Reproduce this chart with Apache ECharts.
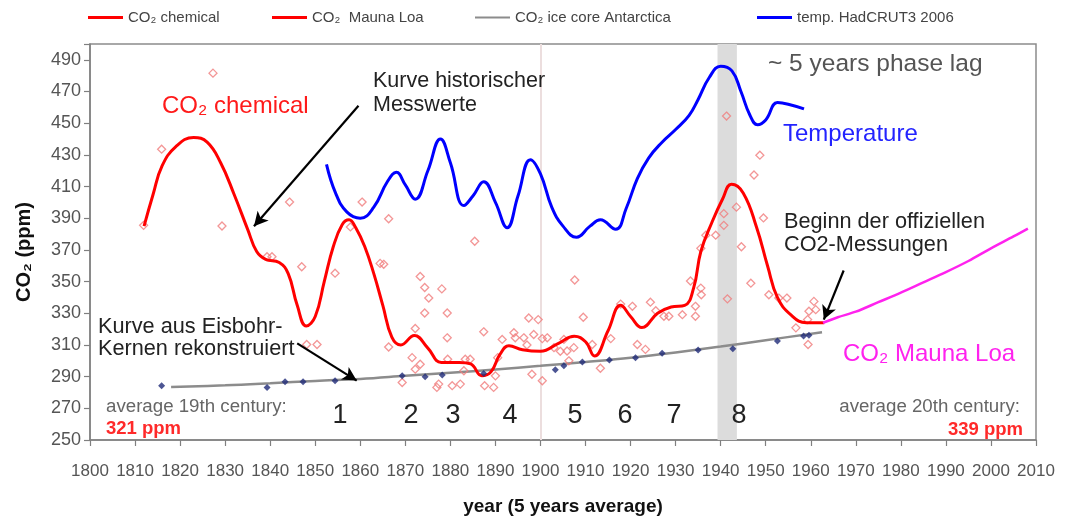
<!DOCTYPE html>
<html><head><meta charset="utf-8">
<script src="https://cdn.jsdelivr.net/npm/echarts@6/dist/echarts.min.js"></script>
<style>html,body{margin:0;padding:0;background:#fff}#c{width:1070px;height:521px}</style>
</head><body><div id="c"></div>
<script>
// ---------- DATA ----------
const chemYears  = [1812,1814,1816,1819,1823,1826,1829,1832,1835,1837,1839,1842,1844,1846,1848,1850,1852,1854,1856,1857.5,1859,1861,1863,1865,1867,1869,1872,1875,1878,1882,1884.5,1887,1889,1891,1893,1896,1900,1904,1907.5,1910,1912,1915,1917.8,1920,1922.5,1926,1929,1932,1934,1935.6,1938,1940.4,1942.4,1945,1948,1950.4,1952.6,1955.6,1959,1963];
const chemValues = [385,405,423,435,441,438,425,405,383,369,364,362,355,335,322,328,350,372,386,389,384,372,355,335,315,310,316,308,299,299,298,290.5,293,304,309.5,307,306,311,315.5,312,303,319,335,328,321,330,334,335,346,369,387,402,411.5,406,384,360,340,329,324,324];

const tempYears  = [1852.5,1854.5,1857,1860,1863,1866,1868,1870,1872.2,1875,1877.8,1880,1883,1885,1887.4,1890,1892.6,1895,1897.8,1900,1902.5,1905,1908,1911,1913.3,1916.7,1919,1921.5,1924,1927,1930,1933,1935,1937.5,1940,1942.5,1944.5,1946.5,1948.2,1950,1952.6,1955,1958.5];
const tempValues = [424,406,394,390,397,413,419,411,402,420,440,425,398,404,413,400,384,404,427,418,397,385,378,385,389,383,396,415,428,438,446,455,465,479,486,483,470,455,449,452,463,462,459];

const iceYears   = [1818,1830,1840,1850,1860,1870,1880,1890,1900,1910,1920,1930,1940,1950,1962.5];
const iceValues  = [283.5,284.5,285.8,287.3,288.5,290.5,292.5,294.5,296.8,299.3,302,305.3,309,313,318];

const iceSampleYears  = [1815.9,1839.3,1843.3,1847.3,1854.4,1869.3,1874.4,1878.2,1887.4,1903.3,1905.2,1909.3,1915.3,1921.1,1927,1935,1942.7,1952.6,1958.4,1959.6];
const iceSampleValues = [284.3,283.2,286.8,286.8,287.4,290.5,290,291,292,294.3,296.8,299.3,300.5,302,304.7,306.8,307.6,312.5,315.6,316.2];

const maunaYears  = [1962.7,1966,1970,1975,1980,1985,1990,1995,2000,2005,2008.2];
const maunaValues = [324,327.5,331,337,343,349.5,356,363,371,378.5,383.5];

const chemSampleYears  = [1811.9,1815.9,1827.3,1829.3,1839.3,1840.4,1844.3,1847,1848.1,1850.4,1854.4,1857.8,1860.4,1864.4,1865.2,1866.3,1866.3,1869.3,1871.5,1872.2,1872.2,1873.3,1873.3,1874.3,1875.2,1874.3,1877,1877.4,1878.1,1879.3,1879.3,1879.4,1880.4,1882.2,1883,1883.3,1884.4,1885.4,1887.4,1887.6,1889.6,1890,1890.5,1891.5,1894.1,1894.4,1896.3,1897,1897.4,1898.1,1898.5,1899.5,1900.4,1900.4,1901.5,1903,1904.4,1905.2,1905.9,1906.3,1907.4,1907.6,1909.5,1911.5,1913.3,1915.6,1917.8,1920.4,1921.5,1923.3,1924.4,1925.6,1927.4,1928.5,1931.5,1933.3,1934.4,1934.4,1935.6,1935.7,1935.6,1936.7,1938.9,1940.7,1940.7,1941.3,1941.5,1943.5,1944.6,1946.7,1947.4,1948.7,1949.5,1950.7,1952.9,1954.7,1956.7,1959.3,1959.6,1960.7,1961.1,1959.4];
const chemSampleValues = [385.5,433.6,481.6,385.1,365.7,365.7,400.2,359.4,310.3,310.3,355.3,384.5,400.2,361.5,360.9,389.7,308.7,286.3,302,294.7,320.4,297.8,353.2,346.3,339.6,330.2,283.2,285.3,345.4,330.2,314.5,301,284.3,285.3,293.7,301,301,375.5,318.3,284.3,283.2,290.5,302,313.5,317.7,314.5,314.5,310,327,291.5,316.6,326,314,287.4,314.5,308.3,306,313.5,306.2,300,308.3,351,327.5,310.3,295.3,314,335.8,334.4,310.3,307.2,337,331.6,328.1,328.1,329.1,350.4,334.4,328.1,345.9,341.7,371,379.3,379.3,385.5,392.9,454.5,339.1,397,372,349,417.3,429.8,390.2,341.7,339.6,339.6,320.8,326,331.3,337.5,332.3,310.3];

const xMin = 1800, xMax = 2010, xStep = 10;
const yMin = 250, yMax = 500, yStep = 20;
const lagBand = [1939.3, 1943.6];
const centuryLine = 1900;

const zip = (a, b) => a.map((v, i) => [v, b[i]]);

// ---------- STYLE ----------
const SANS = "'Liberation Sans',Arial,sans-serif";

const chart = echarts.init(document.getElementById('c'), null, {renderer: 'canvas'});

const legendBase = {
  orient: 'horizontal', icon: 'rect', itemWidth: 35, itemHeight: 3, top: 10,
  selectedMode: false, padding: 0,
  textStyle: {fontFamily: SANS, fontSize: 15, color: '#444'}
};

function txt(x, y, text, size, color, opts) {
  opts = opts || {};
  return {
    type: 'text', x: x, y: y, z: 100,
    style: {text: text, font: (opts.weight ? opts.weight + ' ' : '') + size + 'px ' + SANS,
      fill: color, textVerticalAlign: 'middle', textAlign: opts.align || 'left'}
  };
}

const option = {
  backgroundColor: '#fff',
  animation: false,
  grid: {left: 90, right: 34, top: 44, bottom: 78, show: true, borderColor: '#8c8c8c', borderWidth: 1.5, backgroundColor: 'transparent'},
  legend: [
    Object.assign({}, legendBase, {left: 88, data: [{name: 'CO₂ chemical', itemStyle: {color: '#ff0000'}}]}),
    Object.assign({}, legendBase, {left: 272, data: [{name: 'CO₂  Mauna Loa', itemStyle: {color: '#ff0000'}}]}),
    Object.assign({}, legendBase, {left: 475, itemHeight: 2, data: [{name: 'CO₂ ice core Antarctica', itemStyle: {color: '#8c8c8c'}}]}),
    Object.assign({}, legendBase, {left: 757, data: [{name: 'temp. HadCRUT3 2006', itemStyle: {color: '#0000ff'}}]})
  ],
  xAxis: {
    type: 'value', min: xMin, max: xMax, interval: xStep,
    name: 'year (5 years average)', nameLocation: 'middle', nameGap: 57,
    nameTextStyle: {fontFamily: SANS, fontWeight: 'bold', fontSize: 19, color: '#111'},
    axisLine: {lineStyle: {color: '#808080', width: 1.5}},
    axisTick: {show: true, length: 6, lineStyle: {color: '#808080', width: 1.2}},
    axisLabel: {margin: 23, fontFamily: SANS, fontSize: 17, color: '#555', hideOverlap: false,
      showMinLabel: true, showMaxLabel: true, formatter: v => String(v)},
    splitLine: {show: false}
  },
  yAxis: {
    type: 'value', min: yMin, max: yMax, interval: yStep,
    name: 'CO₂ (ppm)', nameLocation: 'middle', nameGap: 56, nameRotate: 90,
    nameTextStyle: {fontFamily: SANS, fontWeight: 'bold', fontSize: 20, color: '#111', padding: [0, 20, 0, 0]},
    axisLine: {show: true, lineStyle: {color: '#808080', width: 1.5}},
    axisTick: {show: true, length: 6, lineStyle: {color: '#808080', width: 1.2}},
    axisLabel: {margin: 9, fontFamily: SANS, fontSize: 18, color: '#555', hideOverlap: false,
      showMinLabel: true, formatter: v => (v === yMax ? '' : String(v))},
    splitLine: {show: false}
  },
  series: [
    {
      name: 'CO₂ ice core Antarctica', type: 'line', smooth: 0.4, showSymbol: false, z: 3,
      data: zip(iceYears, iceValues),
      lineStyle: {color: '#8c8c8c', width: 2.5}, itemStyle: {color: '#8c8c8c'},
      markArea: {silent: true, z: 1, itemStyle: {color: '#dcdcdc'}, data: [[{xAxis: lagBand[0]}, {xAxis: lagBand[1]}]]},
      markLine: {silent: true, z: 1, symbol: ['none', 'none'], label: {show: false},
        lineStyle: {color: '#ecdede', width: 2, type: 'solid'}, data: [{xAxis: centuryLine}]}
    },
    {
      name: 'chem samples', type: 'scatter', symbol: 'diamond', symbolSize: 8, z: 4,
      data: zip(chemSampleYears, chemSampleValues),
      itemStyle: {color: 'rgba(255,255,255,0)', borderColor: '#f07c7c', borderWidth: 1.3}
    },
    {
      name: 'CO₂ chemical', type: 'line', smooth: 0.45, showSymbol: false, z: 5,
      data: zip(chemYears, chemValues),
      lineStyle: {color: '#ff0000', width: 3}, itemStyle: {color: '#ff0000'},
      markLine: {silent: true, z: 10, symbol: ['none', 'arrow'], symbolSize: [11, 14], label: {show: false},
        lineStyle: {color: '#000', width: 2.2, type: 'solid'},
        data: [
          [{coord: [1859.6, 461]}, {coord: [1836.4, 385]}],
          [{coord: [1846.0, 311]}, {coord: [1859.2, 287.5]}],
          [{coord: [1967.3, 357]}, {coord: [1962.9, 326]}]
        ]}
    },
    {
      name: 'ice samples', type: 'scatter', symbol: 'diamond', symbolSize: 7, z: 6,
      data: zip(iceSampleYears, iceSampleValues),
      itemStyle: {color: '#1f2a78'}
    },
    {
      name: 'CO₂  Mauna Loa', type: 'line', smooth: 0.3, showSymbol: false, z: 5,
      data: zip(maunaYears, maunaValues),
      lineStyle: {color: '#ff22ee', width: 2.5}, itemStyle: {color: '#ff22ee'}
    },
    {
      name: 'temp. HadCRUT3 2006', type: 'line', smooth: 0.45, showSymbol: false, z: 5,
      data: zip(tempYears, tempValues),
      lineStyle: {color: '#0000ff', width: 3}, itemStyle: {color: '#0000ff'}
    }
  ],
  graphic: [
    txt(162, 106, 'CO₂ chemical', 24, '#ff1a1a'),
    txt(373, 81, 'Kurve historischer', 21.5, '#222'),
    txt(373, 105, 'Messwerte', 21.5, '#222'),
    txt(768, 64, '~ 5 years phase lag', 24.5, '#555'),
    txt(783, 134, 'Temperature', 24, '#2323ff'),
    txt(784, 222, 'Beginn der offiziellen', 21.7, '#222'),
    txt(784, 245, 'CO2-Messungen', 21.7, '#222'),
    txt(98, 327, 'Kurve aus Eisbohr-', 21.7, '#222'),
    txt(98, 349, 'Kernen rekonstruiert', 21.7, '#222'),
    txt(106, 407, 'average 19th century:', 18.7, '#666'),
    txt(106, 429, '321 ppm', 18.5, '#ff2a2a', {weight: 'bold'}),
    txt(1020, 407, 'average 20th century:', 18.7, '#666', {align: 'right'}),
    txt(1023, 430, '339 ppm', 18.5, '#ff2a2a', {weight: 'bold', align: 'right'}),
    txt(843, 354, 'CO₂ Mauna Loa', 24, '#ff22ee'),
    txt(340, 416, '1', 27, '#222', {align: 'center'}),
    txt(411, 416, '2', 27, '#222', {align: 'center'}),
    txt(453, 416, '3', 27, '#222', {align: 'center'}),
    txt(510, 416, '4', 27, '#222', {align: 'center'}),
    txt(575, 416, '5', 27, '#222', {align: 'center'}),
    txt(625, 416, '6', 27, '#222', {align: 'center'}),
    txt(674, 416, '7', 27, '#222', {align: 'center'}),
    txt(739, 416, '8', 27, '#222', {align: 'center'})
  ]
};
chart.setOption(option);
</script>
</body></html>
